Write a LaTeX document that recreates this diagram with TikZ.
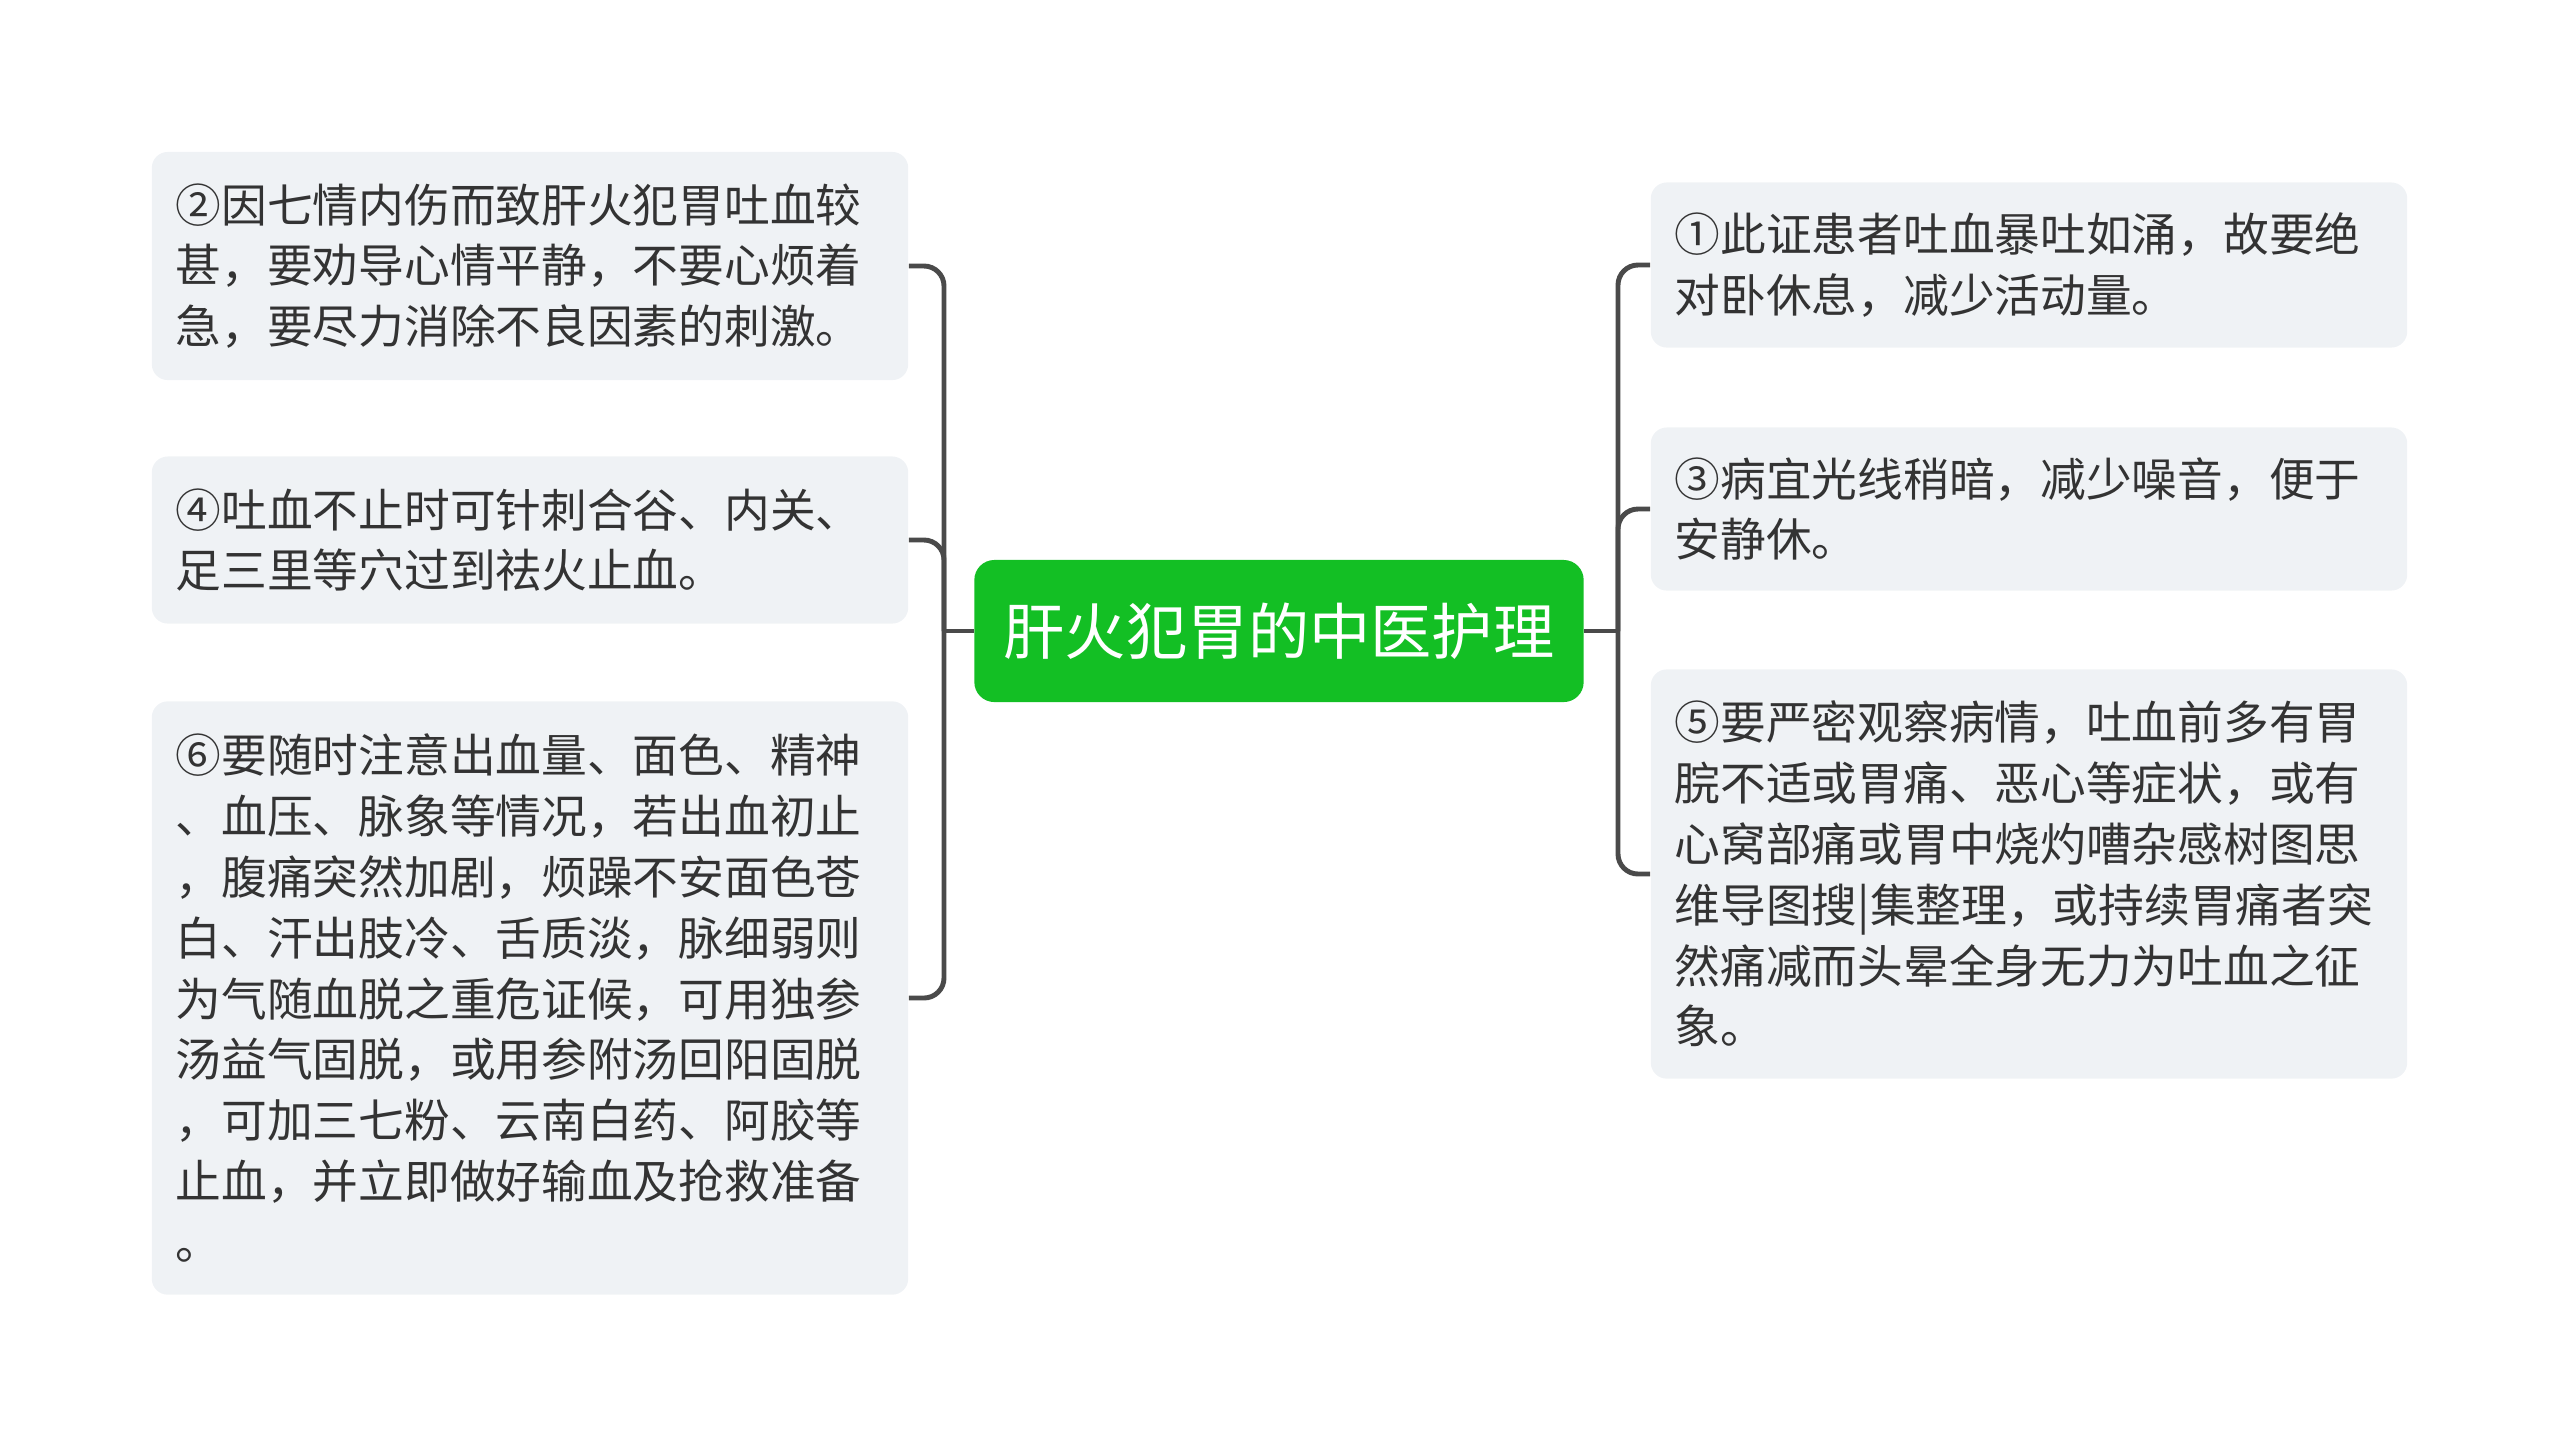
\documentclass[tikz,border=0pt]{standalone}
\usepackage{fontspec}
\setmainfont{Noto Sans CJK SC}

\definecolor{rootgreen}{HTML}{13BF24}
\definecolor{leafgray}{HTML}{EFF2F5}
\definecolor{linegray}{HTML}{4A4A4A}
\definecolor{textgray}{HTML}{333333}

\begin{document}
\begin{tikzpicture}[x=0.01cm,y=-0.01cm,
    root/.style={fill=rootgreen,rounded corners=0.2cm,minimum width=6.09cm,minimum height=1.42cm,
      inner sep=0pt,text=white,font=\fontsize{17.4}{20}\selectfont},
    leaf/.style={fill=leafgray,rounded corners=0.16cm,text width=7.08cm,inner xsep=0.24cm,
      inner ysep=0pt,align=left,text=textgray,font=\fontsize{13}{17.3}\selectfont},
    link/.style={draw=linegray,line width=1.4pt,rounded corners=0.2cm}]

    % Canvas
    \useasboundingbox (0,0) rectangle (2560,1447);

    % Root
    \node[root] (root) at (1279,631) {肝火犯胃的中医护理};

    % Left branches
    \node[leaf,minimum height=2.28cm] (b2) at (530,266)
      {②因七情内伤而致肝火犯胃吐血较\\甚，要劝导心情平静，不要心烦着\\急，要尽力消除不良因素的刺激。};
    \node[leaf,minimum height=1.67cm] (b4) at (530,540)
      {④吐血不止时可针刺合谷、内关、\\足三里等穴过到祛火止血。};
    \node[leaf,minimum height=5.93cm] (b6) at (530,998)
      {⑥要随时注意出血量、面色、精神\\、血压、脉象等情况，若出血初止\\，腹痛突然加剧，烦躁不安面色苍\\白、汗出肢冷、舌质淡，脉细弱则\\为气随血脱之重危证候，可用独参\\汤益气固脱，或用参附汤回阳固脱\\，可加三七粉、云南白药、阿胶等\\止血，并立即做好输血及抢救准备\\。};

    % Right branches
    \node[leaf,minimum height=1.65cm] (b1) at (2029,265)
      {①此证患者吐血暴吐如涌，故要绝\\对卧休息，减少活动量。};
    \node[leaf,minimum height=1.63cm] (b3) at (2029,509)
      {③病宜光线稍暗，减少噪音，便于\\安静休。};
    \node[leaf,minimum height=4.09cm] (b5) at (2029,874)
      {⑤要严密观察病情，吐血前多有胃\\脘不适或胃痛、恶心等症状，或有\\心窝部痛或胃中烧灼嘈杂感树图思\\维导图搜|集整理，或持续胃痛者突\\然痛减而头晕全身无力为吐血之征\\象。};

    % Connectors
    \coordinate (lj) at (944,631);
    \coordinate (rj) at (1618,631);
    \draw[link] (root.west) -- (lj);
    \draw[link] (root.east) -- (rj);
    \foreach \n in {b2,b4,b6}
      \draw[link] (lj) |- (\n.east);
    \foreach \n in {b1,b3,b5}
      \draw[link] (rj) |- (\n.west);

\end{tikzpicture}
\end{document}
